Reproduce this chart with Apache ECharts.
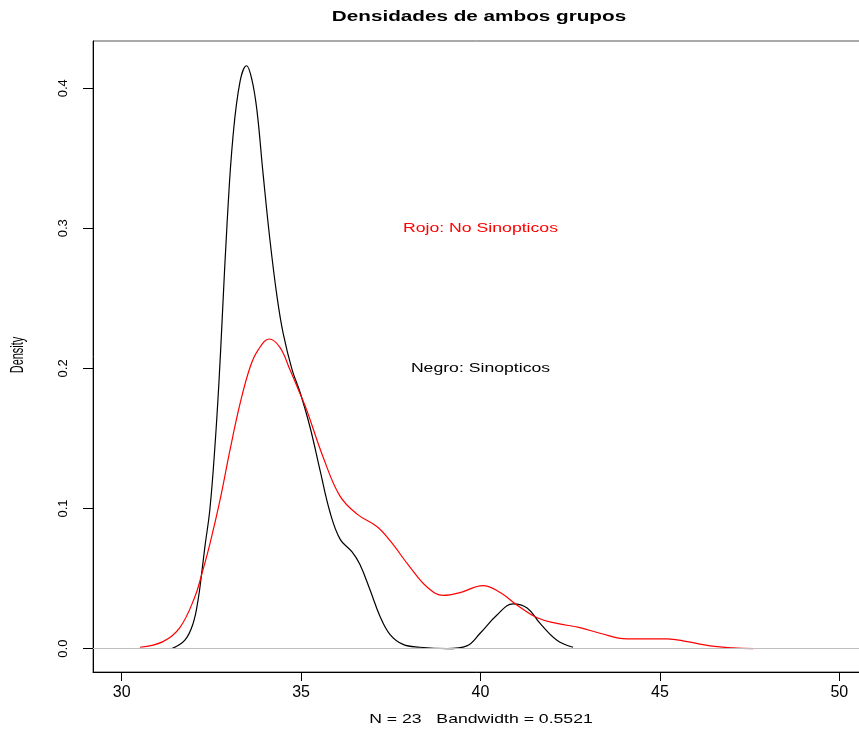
<!DOCTYPE html>
<html>
<head>
<meta charset="utf-8">
<script src="https://cdn.jsdelivr.net/npm/echarts@6/dist/echarts.min.js"></script>
<style>html,body{margin:0;padding:0;background:#fff;}#c{width:859px;height:731px;}</style>
</head>
<body>
<div id="c"></div>
<script>
// Sinopticos (black) density curve
const sinX = [31.40,31.76,31.99,32.13,32.23,32.32,32.46,32.60,32.71,32.80,32.94,33.10,33.30,33.48,33.63,33.77,33.94,34.13,34.33,34.50,34.75,34.97,35.25,35.53,35.81,36.09,36.42,36.64,36.92,37.20,37.48,37.84,38.31,39.07,39.62,39.99,40.46,40.91,41.30,41.66,42.13,42.58];
const sinY = [0.000,0.006,0.018,0.035,0.054,0.073,0.100,0.145,0.190,0.235,0.305,0.365,0.405,0.416,0.406,0.384,0.339,0.292,0.251,0.225,0.199,0.183,0.158,0.127,0.097,0.078,0.069,0.060,0.042,0.023,0.010,0.003,0.001,0.000,0.002,0.011,0.024,0.032,0.029,0.018,0.006,0.001];
// No Sinopticos (red) density curve
const noSinX = [30.51,31.15,31.62,32.04,32.23,32.46,32.74,33.02,33.30,33.58,33.80,34.11,34.41,34.69,34.97,35.16,35.61,36.08,36.56,37.12,37.48,38.04,38.51,38.96,39.43,40.07,40.55,41.02,41.58,42.13,42.77,43.33,44.08,44.64,45.20,45.76,46.40,47.04,47.60];
const noSinY = [0.001,0.005,0.015,0.037,0.053,0.075,0.106,0.142,0.175,0.201,0.213,0.221,0.215,0.199,0.182,0.170,0.137,0.109,0.096,0.087,0.077,0.058,0.044,0.038,0.040,0.045,0.040,0.031,0.022,0.018,0.015,0.011,0.007,0.007,0.007,0.005,0.002,0.0005,0.000];
// Tick labels
const xTicks = [30,35,40,45,50];
const yTicks = [0,0.1,0.2,0.3,0.4];
// Annotations
const noteTexts = ['Rojo: No Sinopticos','Negro: Sinopticos'];
const noteX = [40,40];
const noteY = [0.3,0.2];
const noteColors = ['#ff0000','#000000'];

const FONT = '"Liberation Sans", Arial, Helvetica, sans-serif';
const chart = echarts.init(document.getElementById('c'), null, {renderer:'canvas'});
const zip = (a,b) => a.map((v,i)=>[v,b[i]]);

chart.setOption({
  animation:false,
  backgroundColor:'#ffffff',
  grid:{left:93, top:41, width:775, height:631, show:true, borderColor:'#555', borderWidth:1,
        containLabel:false, outerBoundsMode:'none'},
  xAxis:{type:'value', min:29.2, max:50.8,
    axisLine:{show:true, onZero:false, lineStyle:{color:'#000', width:1}},
    axisTick:{show:true, length:9, customValues:xTicks, lineStyle:{color:'#000'}},
    axisLabel:{show:true, customValues:xTicks, margin:13, color:'#000', fontSize:16, fontFamily:FONT},
    splitLine:{show:false}},
  yAxis:{type:'value', min:-0.01668, max:0.43368,
    axisLine:{show:true, onZero:false, lineStyle:{color:'#000', width:1}},
    axisTick:{show:true, length:10, customValues:yTicks, lineStyle:{color:'#000'}},
    axisLabel:{show:true, customValues:yTicks, rotate:90, margin:23, color:'#000', fontSize:13, fontFamily:FONT,
      formatter:v=>Number(v).toFixed(1)},
    splitLine:{show:false}},
  graphic:[
    {type:'text', x:479, y:17, scaleY:0.72, style:{text:'Densidades de ambos grupos', font:'bold 20.7px '+FONT, fill:'#000', align:'center', verticalAlign:'middle'}},
    {type:'text', x:481, y:720, scaleY:0.69, style:{text:'N = 23   Bandwidth = 0.5521', font:'17.65px '+FONT, fill:'#000', align:'center', verticalAlign:'middle'}},
    {type:'text', x:18, y:355, rotation:Math.PI/2, scaleX:0.62, style:{text:'Density', font:'17.65px '+FONT, fill:'#000', align:'center', verticalAlign:'middle'}}
  ],
  series:[
    {type:'line', name:'Sinopticos', data:zip(sinX,sinY), showSymbol:false, smooth:0.4, clip:true,
      lineStyle:{color:'#000', width:1.2}, itemStyle:{color:'#000'},
      markLine:{silent:true, symbol:'none', label:{show:false}, lineStyle:{color:'#bebebe', width:1, type:'solid'}, data:[{yAxis:0}]}},
    {type:'line', name:'No Sinopticos', data:zip(noSinX,noSinY), showSymbol:false, smooth:0.4, clip:true,
      lineStyle:{color:'#ff0000', width:1.2}, itemStyle:{color:'#ff0000'}},
    {type:'custom', data:zip(noteX,noteY), silent:true,
      renderItem:(params, api)=>{
        const p = api.coord([api.value(0), api.value(1)]);
        return {type:'text', x:p[0], y:p[1], scaleY:0.7,
          style:{text:noteTexts[params.dataIndex], fill:noteColors[params.dataIndex], font:'17.65px '+FONT, align:'center', verticalAlign:'middle'}};
      }}
  ]
});
</script>
</body>
</html>
